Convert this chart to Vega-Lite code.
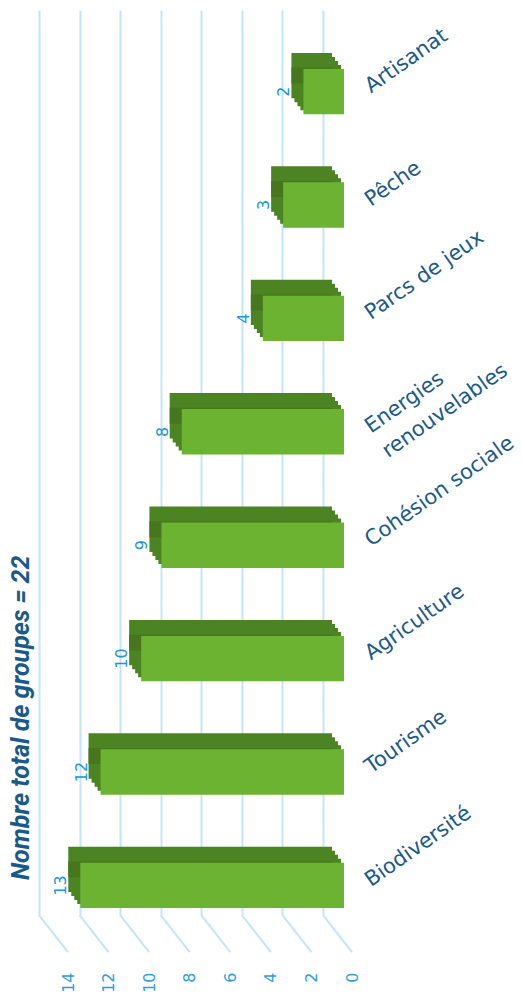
{
  "$schema": "https://vega.github.io/schema/vega-lite/v6.json",
  "width": 284,
  "height": 905,
  "autosize": "none",
  "padding": {"left": 39, "top": 10, "right": 199, "bottom": 82},
  "background": "white",
  "config": {"view": {"stroke": null}, "font": "DejaVu Sans"},
  "title": {
    "text": "Nombre total de groupes = 22",
    "orient": "left",
    "anchor": "start",
    "frame": "group",
    "dx": 35,
    "font": "Roboto",
    "fontStyle": "italic",
    "fontWeight": "bold",
    "fontSize": 25,
    "color": "#1A5A8A",
    "offset": 4
  },
  "datasets": {
    "bars": [
      {"cat": "Artisanat", "n": 2},
      {"cat": "Pêche", "n": 3},
      {"cat": "Parcs de jeux", "n": 4},
      {"cat": "Energies renouvelables", "n": 8},
      {"cat": "Cohésion sociale", "n": 9},
      {"cat": "Agriculture", "n": 10},
      {"cat": "Tourisme", "n": 12},
      {"cat": "Biodiversité", "n": 13}
    ],
    "grid": [
      {"v": 0}, {"v": 2}, {"v": 4}, {"v": 6}, {"v": 8}, {"v": 10}, {"v": 12}, {"v": 14}
    ]
  },
  "data": {"name": "bars"},
  "encoding": {
    "y": {
      "field": "cat",
      "type": "nominal",
      "sort": ["Artisanat", "Pêche", "Parcs de jeux", "Energies renouvelables", "Cohésion sociale", "Agriculture", "Tourisme", "Biodiversité"],
      "scale": {"paddingInner": 0.6, "paddingOuter": 0.29},
      "axis": {
        "orient": "right",
        "domain": false,
        "ticks": false,
        "grid": false,
        "title": null,
        "labelAngle": -35,
        "labelAlign": "left",
        "labelBaseline": "middle",
        "labelPadding": 44,
        "labelOffset": 23,
        "labelFontSize": 21,
        "labelColor": "#1A5A8A",
        "labelLimit": 0,
        "labelOverlap": false,
        "labelLineHeight": 30,
        "labelExpr": "datum.label == 'Energies renouvelables' ? ['Energies', 'renouvelables'] : datum.label"
      }
    },
    "x": {
      "field": "n",
      "type": "quantitative",
      "scale": {"domain": [0, 14], "reverse": true, "nice": false},
      "axis": {
        "values": [0, 2, 4, 6, 8, 10, 12, 14],
        "grid": true,
        "gridColor": "#C4E5F9",
        "gridWidth": 2,
        "domain": false,
        "ticks": false,
        "title": null,
        "labelAngle": -90,
        "labelAlign": "right",
        "labelBaseline": "middle",
        "labelPadding": 57,
        "labelOffset": 29,
        "labelFontSize": 16,
        "labelColor": "#2AA0E4"
      }
    }
  },
  "layer": [
    {
      "data": {"name": "grid"},
      "mark": {"type": "rule", "color": "#C4E5F9", "strokeWidth": 2, "yOffset": 33, "y2Offset": 70, "x2Offset": 29},
      "encoding": {
        "x": {"field": "v", "type": "quantitative"},
        "x2": {"field": "v"},
        "y": {"datum": "Biodiversité", "type": "nominal", "bandPosition": 1},
        "y2": {"datum": "Biodiversité", "bandPosition": 1}
      }
    },
    {"mark": {"type": "bar", "color": "#4C8424", "xOffset": 9, "x2Offset": 9, "yOffset": 10, "y2Offset": 10}},
    {"mark": {"type": "bar", "color": "#4C8424", "xOffset": 12, "x2Offset": 12, "yOffset": 14, "y2Offset": 14}},
    {"mark": {"type": "bar", "color": "#4C8424", "xOffset": 15, "x2Offset": 15, "yOffset": 18, "y2Offset": 18}},
    {"mark": {"type": "bar", "color": "#4C8424", "xOffset": 18, "x2Offset": 18, "yOffset": 22, "y2Offset": 22}},
    {"mark": {"type": "bar", "color": "#46761E", "xOffset": 9, "x2Offset": 9, "yOffset": 10, "height": 16}},
    {"mark": {"type": "bar", "color": "#6BB330", "xOffset": 21, "x2Offset": 21, "yOffset": 26, "y2Offset": 26}},
    {
      "mark": {"type": "text", "angle": 270, "align": "center", "baseline": "middle", "xOffset": 2, "yOffset": 26, "fontSize": 16, "color": "#2196D8"},
      "encoding": {"text": {"field": "n", "type": "quantitative"}}
    }
  ]
}
